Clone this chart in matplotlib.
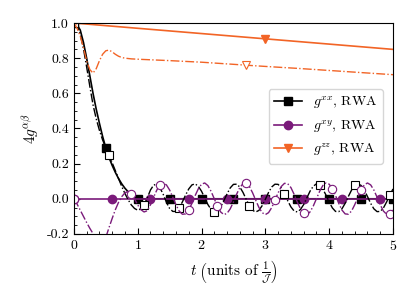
import numpy as np
from matplotlib import pyplot as plt
from matplotlib.ticker import MultipleLocator

plt.rcParams['font.family'] = 'serif'
plt.rcParams['font.serif'] = ['cmr10']
plt.rcParams['mathtext.fontset'] = 'cm'
plt.rcParams['axes.formatter.use_mathtext'] = True
plt.rcParams['font.size'] = 10

# time grid of the exact curves (units of 1/J)
t = np.round(np.arange(0, 5.001, 0.05), 2)

black = '#000000'
purple = '#7a1a7a'
orange = '#f26426'

# g^xx, RWA (decays to zero, then stays there)
gxx_rwa = [1.0, 0.99, 0.96, 0.89, 0.80, 0.70, 0.60, 0.51, 0.43, 0.355, 0.29,
           0.235, 0.19, 0.15, 0.115, 0.085, 0.06, 0.04, 0.022, 0.01, 0.0] + [0.0] * 80

# g^xx, exact
gxx = [1.0, 0.985, 0.935, 0.855, 0.75, 0.64, 0.535, 0.455, 0.39, 0.335,
       0.29, 0.25, 0.205, 0.16, 0.115, 0.07, 0.03, -0.005, -0.035, -0.055,
       -0.065, -0.058, -0.035, 0.005, 0.05, 0.078, 0.083, 0.062, 0.025, -0.02,
       -0.055, -0.072, -0.072, -0.052, -0.018, 0.021, 0.056, 0.079, 0.085, 0.071,
       0.043, 0.005, -0.033, -0.061, -0.075, -0.069, -0.046, -0.011, 0.028, 0.062,
       0.082, 0.083, 0.067, 0.036, -0.003, -0.039, -0.066, -0.075, -0.066, -0.039,
       -0.003, 0.036, 0.067, 0.083, 0.082, 0.062, 0.028, -0.011, -0.046, -0.069,
       -0.075, -0.061, -0.033, 0.005, 0.043, 0.071, 0.085, 0.079, 0.056, 0.021,
       -0.018, -0.052, -0.072, -0.073, -0.057, -0.026, 0.013, 0.049, 0.076, 0.085,
       0.076, 0.049, 0.013, -0.026, -0.057, -0.073, -0.072, -0.052, -0.018, 0.021,
       0.056]

# g^xy, RWA
gxy_rwa = [0.0] * 101

# g^xy, exact
gxy = [0.0, -0.03, -0.065, -0.10, -0.135, -0.168, -0.198, -0.225, -0.245, -0.248,
       -0.22, -0.165, -0.112, -0.062, -0.02, 0.012, 0.034, 0.042, 0.03, 0.0,
       -0.035, -0.062, -0.075, -0.068, -0.034, 0.009, 0.05, 0.079, 0.09, 0.079,
       0.05, 0.009, -0.034, -0.07, -0.088, -0.086, -0.064, -0.026, 0.018, 0.057,
       0.083, 0.09, 0.075, 0.042, 0.0, -0.042, -0.075, -0.09, -0.083, -0.057,
       -0.018, 0.026, 0.064, 0.086, 0.088, 0.07, 0.034, -0.009, -0.05, -0.079,
       -0.09, -0.079, -0.05, -0.009, 0.034, 0.07, 0.088, 0.086, 0.064, 0.026,
       -0.018, -0.057, -0.083, -0.09, -0.075, -0.042, 0.0, 0.042, 0.075, 0.09,
       0.083, 0.057, 0.018, -0.026, -0.064, -0.086, -0.088, -0.07, -0.034, 0.009,
       0.05, 0.079, 0.09, 0.079, 0.05, 0.009, -0.034, -0.07, -0.088, -0.086,
       -0.064]

# g^zz, RWA
t_zz_rwa = [0, 1, 2, 3, 4, 5]
gzz_rwa = [1.0, 0.97, 0.94, 0.91, 0.88, 0.85]

# g^zz, exact
t_zz = [0.0, 0.05, 0.1, 0.15, 0.2, 0.25, 0.3, 0.35, 0.4, 0.45, 0.5, 0.55, 0.6,
        0.65, 0.7, 0.75, 0.8, 0.85, 0.9, 0.95, 1.0, 1.5, 2.0, 2.5, 2.7, 3.0,
        3.5, 4.0, 4.5, 5.0]
gzz = [1.0, 0.97, 0.925, 0.86, 0.785, 0.735, 0.715, 0.74, 0.785, 0.822, 0.842,
       0.846, 0.836, 0.822, 0.811, 0.804, 0.80, 0.798, 0.796, 0.795, 0.794,
       0.786, 0.777, 0.765, 0.760, 0.753, 0.742, 0.730, 0.718, 0.706]

fig = plt.figure(figsize=(4.15, 2.95), dpi=100)
ax = fig.add_axes([0.178, 0.207, 0.769, 0.715])

ax.plot(t, gxx_rwa, color=black, lw=1.2, marker='s', ms=5.8, markevery=10,
        label=r'$g^{xx}$, RWA')
ax.plot(t, gxy_rwa, color=purple, lw=1.2, marker='o', ms=6, markevery=12,
        label=r'$g^{xy}$, RWA')
ax.plot(t_zz_rwa, gzz_rwa, color=orange, lw=1.2, marker='v', ms=6, markevery=3,
        label=r'$g^{zz}$, RWA')

ax.plot(t, gxx, color=black, lw=1.0, ls='-.', marker='s', ms=5.8, mfc='white',
        mew=0.8, markevery=11)
ax.plot(t, gxy, color=purple, lw=1.0, ls='-.', marker='o', ms=6, mfc='white',
        mew=0.8, markevery=9)
ax.plot(t_zz, gzz, color=orange, lw=1.0, ls='-.', marker='v', ms=6, mfc='white',
        mew=0.8, markevery=[0, 24])

ax.set_xlim(0, 5)
ax.set_ylim(-0.2, 1.0)
ax.xaxis.set_major_locator(MultipleLocator(1))
ax.xaxis.set_minor_locator(MultipleLocator(0.2))
ax.yaxis.set_major_locator(MultipleLocator(0.2))
ax.yaxis.set_minor_locator(MultipleLocator(0.05))
ax.yaxis.set_major_formatter(plt.FormatStrFormatter('%.1f'))
ax.tick_params(which='both', direction='in')
ax.tick_params(which='major', length=4)
ax.tick_params(which='minor', length=2)

ax.set_xlabel(r'$t\ \left(\mathrm{units\ of\ }\frac{1}{\mathcal{J}}\right)$', fontsize=11)
ax.set_ylabel(r'$4g^{\alpha\beta}$', fontsize=11)

ax.legend(loc='lower right', bbox_to_anchor=(0.99, 0.30), fontsize=10)

fig.savefig('out.png', dpi=100)
